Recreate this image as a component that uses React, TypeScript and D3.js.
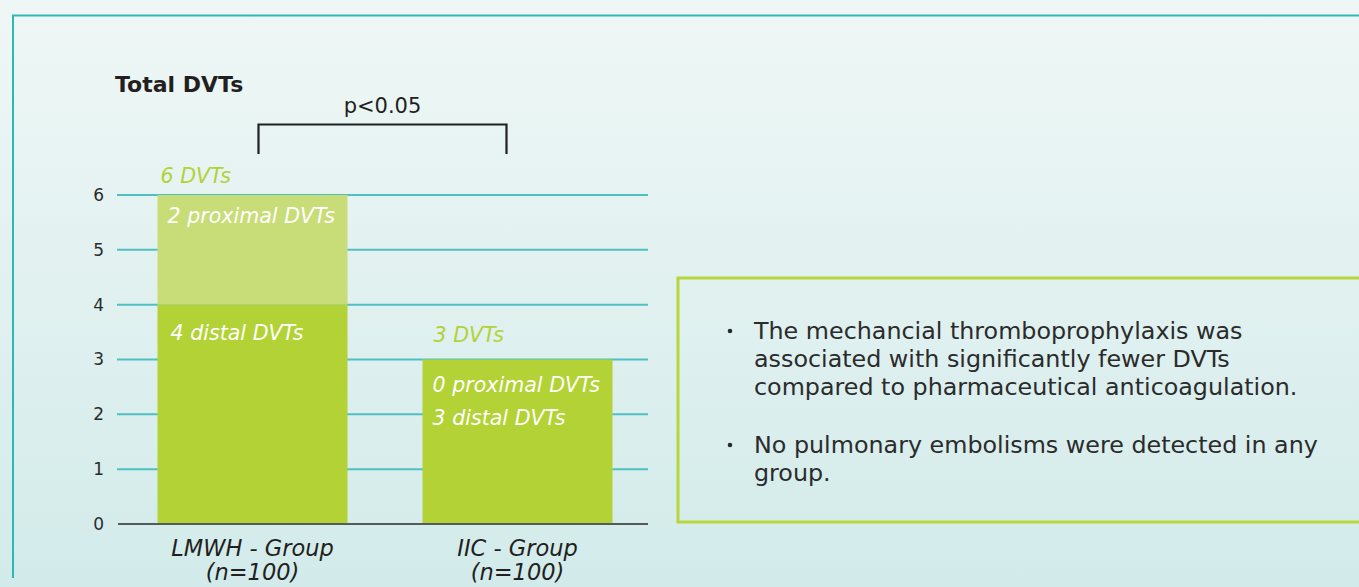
import * as d3 from "d3";

// chart values
const groups = ["LMWH - Group", "IIC - Group"];
const groupSizes = ["(n=100)", "(n=100)"];
const distalDvts = [4, 3];
const proximalDvts = [2, 0];
const yTicks = [0, 1, 2, 3, 4, 5, 6];
const pValueText = "p<0.05";
const notes = [
  [
    "The mechancial thromboprophylaxis was",
    "associated with significantly fewer DVTs",
    "compared to pharmaceutical anticoagulation.",
  ],
  ["No pulmonary embolisms were detected in any", "group."],
];

const W = 1359;
const H = 587;
const FONT = "'DejaVu Sans', sans-serif";
const GREEN = "#b2d235";
const GREEN_LIGHT = "#c8dd78";
const TEAL = "#4fc0c2";
const INK = "#231f20";

const App = () => {
  const x = d3.scaleBand().domain(groups).range([120, 650]).paddingInner(0.283).paddingOuter(0.1415);
  const y = d3.scaleLinear().domain([0, 6]).range([524, 195]);

  const rows = groups.map((g, i) => ({ group: g, distal: distalDvts[i], proximal: proximalDvts[i] }));
  const stacked = d3.stack<any>().keys(["distal", "proximal"])(rows);
  const fills: Record<string, string> = { distal: GREEN, proximal: GREEN_LIGHT };

  const bw = x.bandwidth();
  const bx0 = x(groups[0])!;
  const bx1 = x(groups[1])!;
  const tot = (i: number) => distalDvts[i] + proximalDvts[i];

  return (
    <div style={{ position: "fixed", left: 0, top: 0 }}>
      <svg width={W} height={H} style={{ display: "block", fontFamily: FONT }}>
        <defs>
          <linearGradient id="bg" x1="0" y1="0" x2="0" y2="1">
            <stop offset="0" stopColor="#eff7f6" />
            <stop offset="1" stopColor="#d2ebea" />
          </linearGradient>
        </defs>
        <rect width={W} height={H} fill="url(#bg)" />

        {/* frame */}
        <line x1={12} x2={W} y1={15.5} y2={15.5} stroke="#2fb7b7" strokeWidth={2} />
        <line x1={13} x2={13} y1={15} y2={578} stroke="#2fb7b7" strokeWidth={2} />

        <text x={115} y={92} fontSize={22} fontWeight={700} fill={INK}>
          Total DVTs
        </text>

        {/* gridlines */}
        {yTicks.filter((t) => t > 0).map((t) => (
          <line key={t} x1={117} x2={648} y1={y(t)} y2={y(t)} stroke={TEAL} strokeWidth={2} />
        ))}
        {yTicks.map((t) => (
          <text key={t} x={104} y={y(t)} dy="0.35em" textAnchor="end" fontSize={17} fill="#2b2b2b">
            {t}
          </text>
        ))}

        {/* bars */}
        {stacked.map((layer) =>
          layer.map((d, i) =>
            d[1] > d[0] ? (
              <rect
                key={layer.key + i}
                x={x(groups[i])}
                y={y(d[1])}
                width={bw}
                height={y(d[0]) - y(d[1])}
                fill={fills[layer.key]}
              />
            ) : null
          )
        )}
        <line x1={118} x2={648} y1={y(0)} y2={y(0)} stroke="#555a5c" strokeWidth={2} />

        {/* bar labels */}
        <g fontStyle="italic" fontSize={20.6}>
          <text x={bx0 + 3} y={y(tot(0)) - 12} fill={GREEN}>{tot(0)} DVTs</text>
          <text x={bx0 + 10} y={y(tot(0)) + 28} fill="#fff">{proximalDvts[0]} proximal DVTs</text>
          <text x={bx0 + 13} y={y(distalDvts[0]) + 35} fill="#fff">{distalDvts[0]} distal DVTs</text>
          <text x={bx1 + 11} y={y(tot(1)) - 18} fill={GREEN}>{tot(1)} DVTs</text>
          <text x={bx1 + 10} y={y(tot(1)) + 32} fill="#fff">{proximalDvts[1]} proximal DVTs</text>
          <text x={bx1 + 10} y={y(tot(1)) + 65} fill="#fff">{distalDvts[1]} distal DVTs</text>
        </g>

        {/* x labels */}
        <g fontStyle="italic" fontSize={22.5} fill={INK} textAnchor="middle">
          {groups.map((g, i) => (
            <g key={g}>
              <text x={x(g)! + bw / 2} y={556}>{g}</text>
              <text x={x(g)! + bw / 2} y={580}>{groupSizes[i]}</text>
            </g>
          ))}
        </g>

        {/* significance bracket */}
        <path
          d={`M${bx0 + 101},154 V124.5 H${bx1 + 84} V154`}
          fill="none"
          stroke={INK}
          strokeWidth={2.2}
        />
        <text x={(bx0 + 101 + bx1 + 84) / 2} y={113} textAnchor="middle" fontSize={21} fill={INK}>
          {pValueText}
        </text>

        {/* notes box */}
        <rect x={678} y={278} width={W} height={244} fill="none" stroke="#b7d63b" strokeWidth={3} />
        <g fontSize={23.8} fill="#2b2b2b">
          {notes.map((lines, bi) => {
            const top = bi === 0 ? 339 : 453;
            return (
              <g key={bi}>
                <circle cx={730} cy={top - 8} r={2.3} fill="#2b2b2b" />
                {lines.map((l, li) => (
                  <text key={li} x={754} y={top + li * 28}>
                    {l}
                  </text>
                ))}
              </g>
            );
          })}
        </g>
      </svg>
    </div>
  );
};

export default App;
